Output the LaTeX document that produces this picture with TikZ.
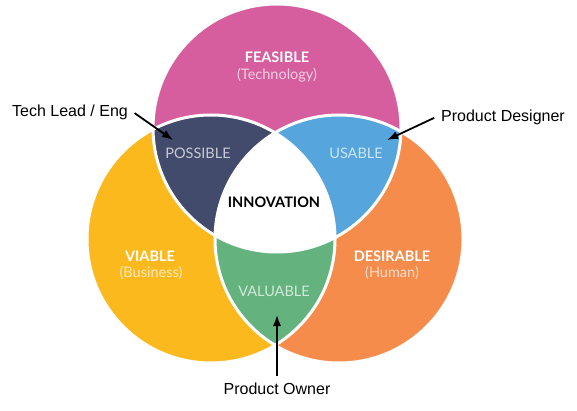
\documentclass[tikz,border=0pt]{standalone}
\usepackage{fontspec}
\setmainfont{Liberation Sans}
\newfontfamily\vennfont{Lato}

\usetikzlibrary{
  arrows.meta % For arrow tips
}

\definecolor{feasible}{RGB}{214,94,158}
\definecolor{viable}{RGB}{251,185,29}
\definecolor{desirable}{RGB}{245,140,75}
\definecolor{possible}{RGB}{67,75,108}
\definecolor{usable}{RGB}{86,166,221}
\definecolor{valuable}{RGB}{100,179,127}

\begin{document}
\begin{tikzpicture}[
      x=1pt, y=-1pt, % Pixel-Koordinaten, y nach unten
      >=Latex, % Default arrow tip
      rolle/.style={font=\fontsize{16}{19}\selectfont, inner sep=5pt}, % Style for role labels
      pointer/.style={->, line width=1.8pt, shorten <=2pt}, % Style for role arrows
      titel/.style={font=\vennfont\bfseries\fontsize{14.5}{17}\selectfont, text=white}, % Style for circle titles
      unter/.style={font=\vennfont\fontsize{14.5}{17}\selectfont, text=white, text opacity=0.7}, % Style for light labels
      grenze/.style={draw=white, line width=3pt}, % Style for white borders
    ]

    \def\rad{124pt}

    \useasboundingbox (0,0) rectangle (577,411);

    % Mittelpunkte der Kreise
    \coordinate (F) at (277,128);
    \coordinate (V) at (211,239);
    \coordinate (D) at (339,239);

    % Kreise
    \fill[feasible] (F) circle[radius=\rad];
    \fill[viable] (V) circle[radius=\rad];
    \fill[desirable] (D) circle[radius=\rad];

    % VALUABLE: V und D
    \begin{scope}
      \clip (V) circle[radius=\rad];
      \fill[valuable] (D) circle[radius=\rad];
    \end{scope}

    % POSSIBLE, USABLE und INNOVATION
    \begin{scope}
      \clip (F) circle[radius=\rad];
      \fill[possible] (V) circle[radius=\rad];
      \fill[usable] (D) circle[radius=\rad];
      \clip (V) circle[radius=\rad];
      \fill[white] (D) circle[radius=\rad];
    \end{scope}

    % weisse Raender
    \foreach \c in {F,V,D}
      \draw[grenze] (\c) circle[radius=\rad];

    % Beschriftung der Kreise
    \node[titel] (feasible) at (277,57) {FEASIBLE};
    \node[unter] (technology) at (277,75) {(Technology)};
    \node[titel] (viable) at (150,256) {VIABLE};
    \node[unter] (business) at (151,273) {(Business)};
    \node[titel] (desirable) at (392,256) {DESIRABLE};
    \node[unter] (human) at (392,273) {(Human)};

    % Schnittmengen
    \node[unter] (possible) at (198,153) {POSSIBLE};
    \node[unter] (usable) at (356,153) {USABLE};
    \node[unter] (valuable) at (274,291) {VALUABLE};
    \node[titel, text=black] (innovation) at (274,202) {INNOVATION};

    % Rollen
    \node[rolle] (techlead) at (70,112) {Tech Lead / Eng};
    \node[rolle] (designer) at (503,117) {Product Designer};
    \node[rolle] (owner) at (277,389) {Product Owner};

    \coordinate (zielPossible) at (173,140);
    \coordinate (zielUsable) at (387,140);
    \coordinate (zielValuable) at (277,315);

    \draw[pointer] (techlead.east) -- (zielPossible);
    \draw[pointer] (designer.west) -- (zielUsable);
    \draw[pointer] (owner.north) -- (zielValuable);

  \end{tikzpicture}
\end{document}
